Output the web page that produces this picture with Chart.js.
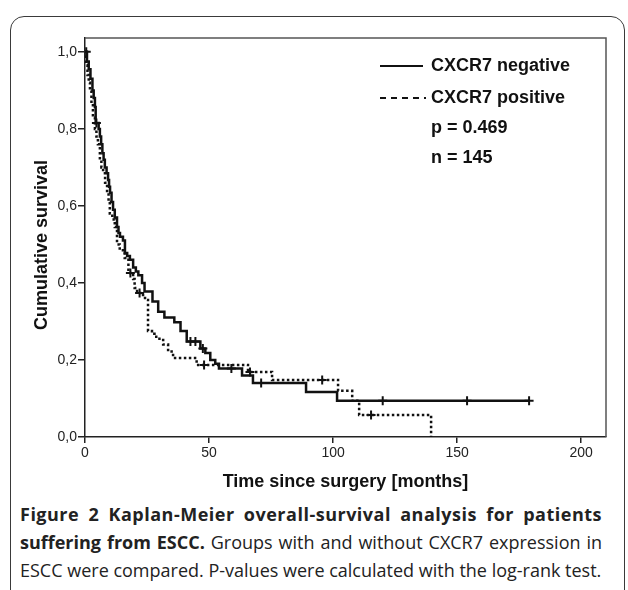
<!DOCTYPE html>
<html>
<head>
<meta charset="utf-8">
<script src="https://cdn.jsdelivr.net/npm/chart.js@4.4.1/dist/chart.umd.min.js"></script>
<style>
  html, body { margin: 0; padding: 0; background: #fff; }
  body { width: 628px; height: 590px; position: relative; overflow: hidden; }
  .frame {
    position: absolute; left: 10px; top: 16px; width: 615px; height: 620px;
    border: 1.5px solid #3a3a3a; border-radius: 14px; box-sizing: border-box;
  }
  #km { position: absolute; left: 0; top: 0; }
  .caption {
    position: absolute; left: 20px; top: 500px; width: 582px;
    font-family: "Open Sans", sans-serif; font-size: 18px; line-height: 28px; color: #222;
  }
  .caption div { white-space: nowrap; text-align: justify; text-align-last: justify; }
  .caption div.first { letter-spacing: 0.5px; }
  .caption div.last { text-align-last: left; }
  .caption b { font-weight: 700; }
</style>
</head>
<body>
<div class="frame"></div>
<canvas id="km" width="628" height="500"></canvas>
<div class="caption">
  <div class="first"><b>Figure 2 Kaplan-Meier overall-survival analysis for patients</b></div>
  <div><b>suffering from ESCC.</b> Groups with and without CXCR7 expression in</div>
  <div class="last">ESCC were compared. P-values were calculated with the log-rank test.</div>
</div>
<script>
// survival data (months, cumulative survival)
const negTime = [0, 0.8, 1.5, 2.2, 3, 3.5, 4, 4.3, 5.5, 6, 6.5, 7, 7.5, 8, 8.7, 9.3, 9.7, 10.1, 10.7, 11.3, 12, 12.9, 13.5, 14.1, 15.3, 16.1, 17, 18.1, 19.4, 20.5, 21.5, 23, 24, 27.2, 29.5, 32, 36, 38.5, 41, 46.5, 48.5, 50.5, 52.5, 54, 63.3, 67.7, 89.1, 101.6, 179];
const negSurv = [1, 0.975, 0.955, 0.93, 0.9, 0.88, 0.857, 0.815, 0.8, 0.78, 0.76, 0.737, 0.72, 0.7, 0.685, 0.667, 0.65, 0.634, 0.61, 0.59, 0.57, 0.545, 0.53, 0.52, 0.51, 0.478, 0.47, 0.46, 0.44, 0.43, 0.42, 0.4, 0.378, 0.352, 0.325, 0.31, 0.298, 0.275, 0.248, 0.23, 0.218, 0.2, 0.19, 0.178, 0.16, 0.14, 0.117, 0.094, 0.094];
const negCensorTime = [0.5, 4.6, 42.5, 44.5, 47.5, 59, 71, 120, 154, 179];
const negCensorSurv = [1, 0.815, 0.248, 0.248, 0.23, 0.178, 0.14, 0.094, 0.094, 0.094];

const posTime = [0, 0.5, 1, 1.5, 2, 2.6, 3.2, 4, 4.6, 5.2, 6, 6.6, 7.3, 8.1, 8.9, 9.5, 10, 11, 12, 12.9, 14, 16, 17.5, 19.4, 20, 21, 23.4, 24.2, 25.4, 27, 28, 30, 31.5, 33.5, 35.5, 45, 65.7, 75.4, 102, 107.7, 110.5, 139.5];
const posSurv = [1, 0.965, 0.94, 0.92, 0.9, 0.865, 0.83, 0.8, 0.78, 0.76, 0.72, 0.7, 0.685, 0.66, 0.634, 0.61, 0.58, 0.565, 0.545, 0.5, 0.485, 0.465, 0.426, 0.41, 0.387, 0.374, 0.365, 0.356, 0.275, 0.268, 0.26, 0.252, 0.24, 0.222, 0.205, 0.187, 0.169, 0.148, 0.12, 0.094, 0.057, 0];
const posCensorTime = [18.3, 22, 48, 66.5, 95.6, 115.3];
const posCensorSurv = [0.426, 0.374, 0.187, 0.169, 0.148, 0.057];

const xTicks = [0, 50, 100, 150, 200];
const yTicks = [0, 0.2, 0.4, 0.6, 0.8, 1.0];
const legendLabels = ['CXCR7 negative', 'CXCR7 positive'];
const statLines = ['p = 0.469', 'n = 145'];
const yTitle = 'Cumulative survival';

function pts(xs, ys) {
    return xs.map((x, i) => ({ x: x, y: ys[i] }));
}

const ink = '#111';
const boldFont = 'bold 18px "Liberation Sans", Arial, sans-serif';

// frame on top/right, y title + legend text inside the plot
const boxAndLegend = {
    id: 'boxAndLegend',
    afterDraw(chart) {
        const c = chart.ctx;
        const a = chart.chartArea;
        c.save();
        c.strokeStyle = '#555';
        c.lineWidth = 1.5;
        c.beginPath();
        c.moveTo(a.left, a.top);
        c.lineTo(a.right, a.top);
        c.lineTo(a.right, a.bottom);
        c.stroke();

        c.font = boldFont;
        c.fillStyle = ink;
        c.textBaseline = 'middle';

        // y axis title
        c.save();
        c.translate(42, 245);
        c.rotate(-Math.PI / 2);
        c.textAlign = 'center';
        c.fillText(yTitle, 0, 0);
        c.restore();

        c.strokeStyle = ink;
        c.lineWidth = 2;
        // solid
        c.beginPath();
        c.moveTo(380, 66);
        c.lineTo(423, 66);
        c.stroke();
        c.fillText(legendLabels[0], 431, 66);
        // dashed
        c.setLineDash([6, 5]);
        c.beginPath();
        c.moveTo(380, 98);
        c.lineTo(426, 98);
        c.stroke();
        c.setLineDash([]);
        c.fillText(legendLabels[1], 431, 98);
        c.fillText(statLines[0], 431, 128);
        c.fillText(statLines[1], 431, 158);
        c.restore();
    }
};

const ctx = document.getElementById('km').getContext('2d');
const kmChart = new Chart(ctx, {
    type: 'line',
    data: {
        datasets: [{
            label: legendLabels[0],
            data: pts(negTime, negSurv),
            stepped: true,
            borderColor: ink,
            borderWidth: 2.5,
            pointRadius: 0,
            fill: false
        }, {
            label: legendLabels[1],
            data: pts(posTime, posSurv),
            stepped: true,
            borderColor: ink,
            borderWidth: 2.5,
            borderDash: [2.5, 2.5],
            pointRadius: 0,
            fill: false
        }, {
            label: 'negative censored',
            data: pts(negCensorTime, negCensorSurv),
            showLine: false,
            pointStyle: 'cross',
            pointRadius: 4.5,
            borderColor: ink,
            borderWidth: 2
        }, {
            label: 'positive censored',
            data: pts(posCensorTime, posCensorSurv),
            showLine: false,
            pointStyle: 'cross',
            pointRadius: 4.5,
            borderColor: ink,
            borderWidth: 2
        }]
    },
    options: {
        responsive: false,
        animation: false,
        devicePixelRatio: 1,
        layout: { padding: { top: 38, right: 22, left: 0, bottom: 0 } },
        plugins: {
            legend: { display: false },
            tooltip: { enabled: false }
        },
        scales: {
            x: {
                type: 'linear',
                min: 0,
                max: 210,
                afterBuildTicks: s => { s.ticks = xTicks.map(v => ({ value: v })); },
                afterFit: s => { s.height = 63; },
                grid: { drawOnChartArea: false, tickLength: 6, color: '#222', lineWidth: 1.5 },
                border: { color: '#222', width: 1.5 },
                ticks: {
                    color: '#222',
                    padding: 2,
                    maxRotation: 0,
                    font: { family: '"Liberation Sans", Arial, sans-serif', size: 14 }
                },
                title: {
                    display: true,
                    text: 'Time since surgery [months]',
                    color: ink,
                    padding: { top: 0, bottom: 7 },
                    font: { family: '"Liberation Sans", Arial, sans-serif', size: 18, weight: 'bold' }
                }
            },
            y: {
                min: 0,
                max: 1.036,
                afterBuildTicks: s => { s.ticks = yTicks.map(v => ({ value: v })); },
                afterFit: s => { s.width = 85; },
                grid: { drawOnChartArea: false, tickLength: 7, color: '#222', lineWidth: 1.5 },
                border: { color: '#222', width: 1.5 },
                ticks: {
                    color: '#222',
                    padding: 1,
                    font: { family: '"Liberation Sans", Arial, sans-serif', size: 14 },
                    callback: v => v.toFixed(1).replace('.', ',')
                }
            }
        }
    },
    plugins: [boxAndLegend]
});
</script>
</body>
</html>
